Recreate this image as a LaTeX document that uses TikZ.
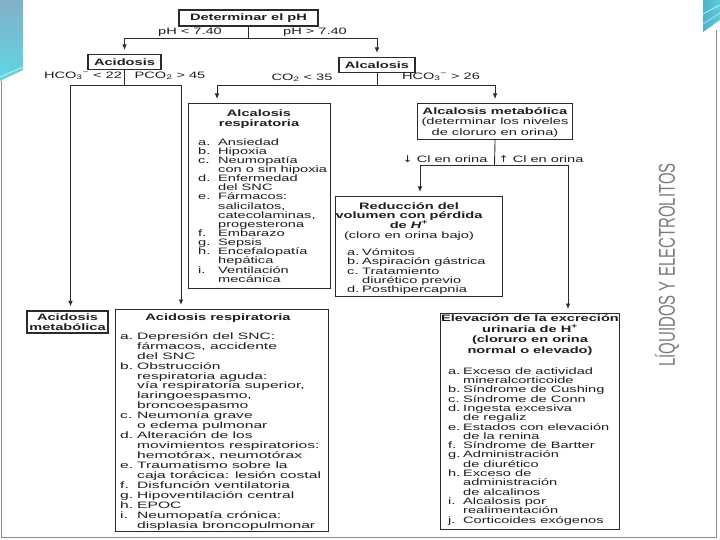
\documentclass[tikz,border=0pt]{standalone}
\usepackage{fontspec}
\setmainfont{Liberation Sans}
\newfontfamily\dfont[FakeStretch=1.57]{Liberation Sans}
\newfontfamily\wfont[FakeStretch=1.68]{Liberation Sans}
\newfontfamily\afont[FakeStretch=1.3]{DejaVu Sans}
\newfontfamily\vfont[FakeStretch=0.65]{Liberation Sans}
\usetikzlibrary{arrows.meta}
\definecolor{ink}{HTML}{1E1E1E}
\definecolor{edge}{HTML}{2B2B2B}
\definecolor{framec}{HTML}{8C8C8C}
\definecolor{tealA}{HTML}{82AFC8}
\definecolor{tealB}{HTML}{5FD8E2}
\definecolor{tealC}{HTML}{4FB2CC}
\definecolor{vgray}{HTML}{7C7C7C}
\newlength\labw
\newcommand\li[1]{\makebox[\labw][l]{#1}}
\newcommand\cont{\hspace*{\labw}}
\newcommand\fst{\rule{0pt}{9pt}}
\newcommand\nols{\setlength\lineskiplimit{-100pt}}
\newcommand\bfnt[1]{\dfont\bfseries\fontsize{9.3}{#1}\selectfont\nols}
\newcommand\rfnt[1]{\dfont\fontsize{9.3}{#1}\selectfont\nols}
\newcommand\wfnt[1]{\wfont\fontsize{9.3}{#1}\selectfont\nols}
\tikzset{
  box/.style={draw=edge, line width=1.1pt, inner sep=0pt, anchor=north west},
  sbox/.style={draw=edge, line width=1.1pt, inner sep=0pt, text=ink, align=center,
    font={\bfnt{10}}},
  lbl/.style={font={\rfnt{10}}, text=ink, inner sep=0pt},
  ttl/.style={font={\bfnt{#1}}, text=ink, align=center, inner sep=0pt, anchor=north},
  ctr/.style={font={\rfnt{#1}}, text=ink, align=center, inner sep=0pt, anchor=north},
  lst/.style 2 args={font={\rfnt{#1}\setlength\labw{#2}},
    text=ink, align=left, inner sep=0pt, anchor=north west},
  wlst/.style 2 args={font={\wfnt{#1}\setlength\labw{#2}},
    text=ink, align=left, inner sep=0pt, anchor=north west},
  arr/.style={draw=edge, line width=0.9pt, shorten >=4pt, -{Latex[length=5.5pt,width=4.5pt]}},
  ln/.style={draw=edge, line width=0.9pt},
}
\begin{document}
\begin{tikzpicture}[x=1pt,y=-1pt]
\useasboundingbox (0,0) rectangle (720,540);
\fill[white] (0,0) rectangle (720,540);
% slide decorations
\shade[top color=tealA, bottom color=tealB] (0,0) -- (23,0) -- (23,70) -- (0,81) -- cycle;
\draw[white!60!tealB, line width=0.8pt] (0,77) -- (23,67);
\shade[left color=tealC, right color=tealB!70!tealC] (703,0) -- (720,0) -- (720,20) -- (703,32) -- cycle;
\draw[white, line width=1pt, opacity=0.6] (703,14) -- (720,5);
\draw[white, line width=0.8pt, opacity=0.5] (703,24) -- (720,13);
\draw[framec, line width=1.2pt] (1.2,81) -- (1.2,537.5) -- (716.8,537.5) -- (716.8,30);
\node[rotate=90, font=\vfont\fontsize{23}{23}\selectfont, text=vgray, inner sep=0pt] (side) at (667,265) {LÍQUIDOS Y ELECTROLITOS};

% small boxes
\node[sbox, minimum width=139pt, minimum height=16pt] (det) at (248.5,18) {Determinar el pH};
\node[sbox, minimum width=73pt, minimum height=15pt] (acid) at (124.5,62) {Acidosis};
\node[sbox, minimum width=76pt, minimum height=15pt] (alc) at (377,65) {Alcalosis};
\node[sbox, minimum width=81pt, minimum height=22pt] (acm) at (67.5,322) {Acidosis\\metabólica};

% large boxes
\node[box, minimum width=142pt, minimum height=185pt] (alr) at (188,103) {};
\node[box, minimum width=155pt, minimum height=36pt] (alm) at (417,103) {};
\node[box, minimum width=167pt, minimum height=100pt] (red) at (335,196) {};
\node[box, minimum width=213pt, minimum height=222pt] (arb) at (115,309) {};
\node[box, minimum width=179pt, minimum height=216pt] (elv) at (440,313) {};

% branch labels
\node[lbl] (l1) at (190,32) {pH < 7.40};
\node[lbl] (l2) at (315,32) {pH > 7.40};
\node[lbl] (l3) at (83,76) {HCO\textsubscript{3}\textsuperscript{−} < 22};
\node[lbl] (l4) at (170,76) {PCO\textsubscript{2} > 45};
\node[lbl] (l5) at (302,78) {CO\textsubscript{2} < 35};
\node[lbl] (l6) at (441,77) {HCO\textsubscript{3}\textsuperscript{−} > 26};
\node[lbl] (l7) at (445,159) {{\afont ↓} Cl en orina};
\node[lbl] (l8) at (541,159) {{\afont ↑} Cl en orina};

% connectors
\coordinate (j1) at (248.5,38);
\draw[ln] (det.south) -- (j1);
\draw[arr] (j1) -| (acid.north);
\draw[arr] (j1) -| (alc.north);
\coordinate (j2) at (124.5,85);
\draw[ln] (acid.south) -- (j2);
\draw[arr] (j2) -| ([xshift=3pt]acm.north);
\draw[arr] (j2) -| ([xshift=66pt]arb.north west);
\coordinate (j3) at (377,85);
\draw[ln] (alc.south) -- (j3);
\draw[arr] (j3) -| ([xshift=29pt]alr.north west);
\draw[arr] (j3) -| (alm.north);
\coordinate (j4) at (494.5,165);
\draw[ln] (alm.south) -- (j4);
\draw[arr] (j4) -| ([xshift=85pt]red.north west);
\draw[arr] (j4) -| ([xshift=128pt]elv.north west);

% Alcalosis respiratoria
\node[ttl=10] (alrt) at (259,107) {\fst Alcalosis\\respiratoria};
\node[lst={9.13}{20pt}] (alrl) at (198,136) {\fst\li{a.}Ansiedad\\
\li{b.}Hipoxia\\
\li{c.}Neumopatía\\
\cont con o sin hipoxia\\
\li{d.}Enfermedad\\
\cont del SNC\\
\li{e.}Fármacos:\\
\cont salicilatos,\\
\cont catecolaminas,\\
\cont progesterona\\
\li{f.}Embarazo\\
\li{g.}Sepsis\\
\li{h.}Encefalopatía\\
\cont hepática\\
\li{i.}Ventilación\\
\cont mecánica};

% Alcalosis metabolica
\node[ctr=10.5] (almt) at (495,105) {\fst\textbf{Alcalosis metabólica}\\(determinar los niveles\\de cloruro en orina)};

% Reduccion del volumen
\node[ttl=9.6] (redt) at (409,200) {\fst Reducción del\\volumen con pérdida\\de \textit{H}\textsuperscript{+}\\{\mdseries (cloro en orina bajo)}};
\node[lst={9.4}{15pt}] (redl) at (347,246) {\fst\li{a.}Vómitos\\
\li{b.}Aspiración gástrica\\
\li{c.}Tratamiento\\
\cont diurético previo\\
\li{d.}Posthipercapnia};

% Acidosis respiratoria
\node[ttl=10] (arbt) at (218,311) {\fst Acidosis respiratoria};
\node[wlst={9.95}{17pt}] (arbl) at (120,330) {\fst\li{a.}Depresión del SNC:\\
\cont fármacos, accidente\\
\cont del SNC\\
\li{b.}Obstrucción\\
\cont respiratoria aguda:\\
\cont vía respiratoria superior,\\
\cont laringoespasmo,\\
\cont broncoespasmo\\
\li{c.}Neumonía grave\\
\cont o edema pulmonar\\
\li{d.}Alteración de los\\
\cont movimientos respiratorios:\\
\cont hemotórax, neumotórax\\
\li{e.}Traumatismo sobre la\\
\cont caja torácica: lesión costal\\
\li{f.}Disfunción ventilatoria\\
\li{g.}Hipoventilación central\\
\li{h.}EPOC\\
\li{i.}Neumopatía crónica:\\
\cont displasia broncopulmonar};

% Elevacion de la excrecion
\node[ttl=10.5] (elvt) at (530,312.5) {\fst Elevación de la excreción\\urinaria de H\textsuperscript{+}\\(cloruro en orina\\normal o elevado)};
\node[lst={9.31}{15pt}] (elvl) at (448,365) {\fst\li{a.}Exceso de actividad\\
\cont mineralcorticoide\\
\li{b.}Síndrome de Cushing\\
\li{c.}Síndrome de Conn\\
\li{d.}Ingesta excesiva\\
\cont de regaliz\\
\li{e.}Estados con elevación\\
\cont de la renina\\
\li{f.}Síndrome de Bartter\\
\li{g.}Administración\\
\cont de diurético\\
\li{h.}Exceso de\\
\cont administración\\
\cont de alcalinos\\
\li{i.}Alcalosis por\\
\cont realimentación\\
\li{j.}Corticoides exógenos};
\end{tikzpicture}
\end{document}
